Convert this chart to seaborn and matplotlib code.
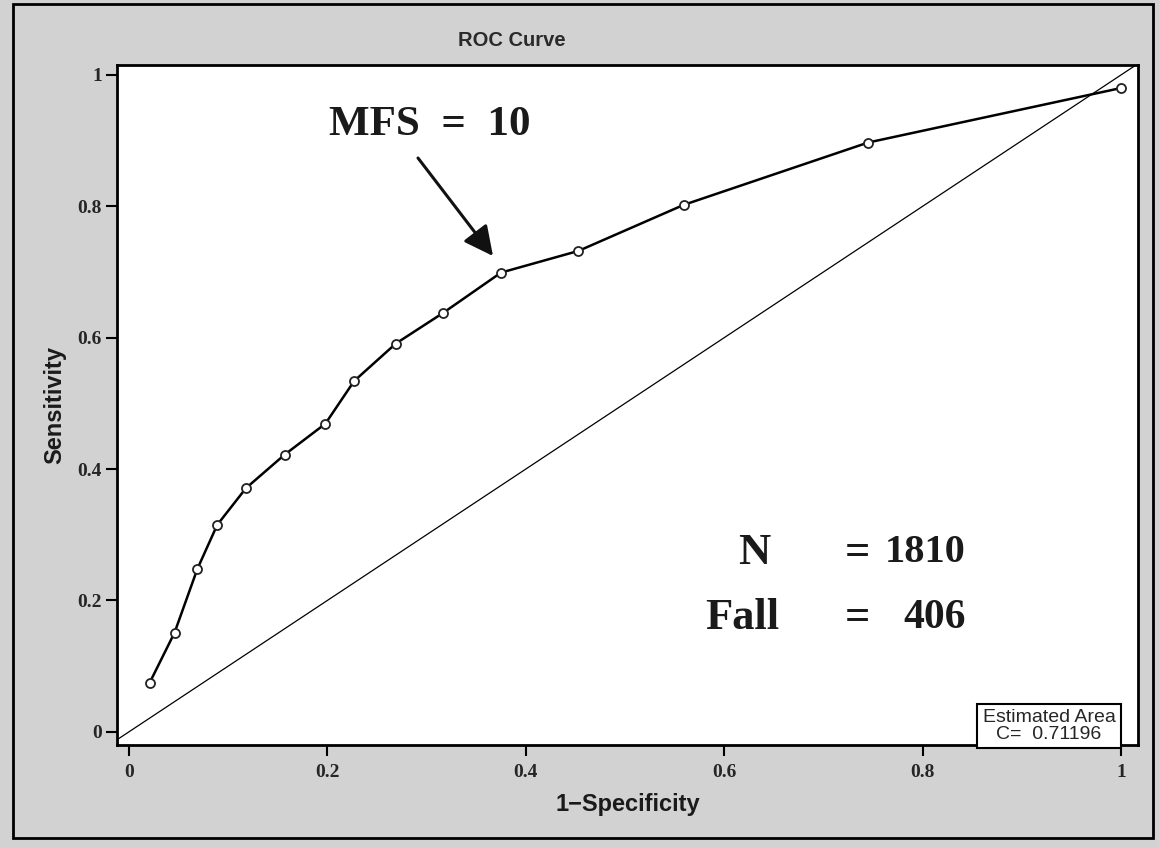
import matplotlib
matplotlib.use("Agg")
import matplotlib.pyplot as plt
import matplotlib.patches as mpatches
import seaborn as sns
import pandas as pd
import numpy as np

# ---- data ----
fpr = [0.021, 0.046, 0.069, 0.089, 0.118, 0.157, 0.198, 0.227, 0.269, 0.317,
       0.375, 0.453, 0.559, 0.745, 1.000]
tpr = [0.075, 0.151, 0.248, 0.315, 0.371, 0.422, 0.469, 0.534, 0.591, 0.638,
       0.699, 0.732, 0.802, 0.897, 0.980]
x_ticks = [0, 0.2, 0.4, 0.6, 0.8, 1]
y_ticks = [0, 0.2, 0.4, 0.6, 0.8, 1]
tick_labels = ["0", "0.2", "0.4", "0.6", "0.8", "1"]
area_c = "0.71196"
n_total = 1810
n_fall = 406
mfs_cut = 10

df = pd.DataFrame({"fpr": fpr, "tpr": tpr})

sns.set_theme(style="white")
plt.rcParams["font.family"] = ["Liberation Sans", "DejaVu Sans"]

W, H = 1159, 848
fig = plt.figure(figsize=(W / 100, H / 100), dpi=100, facecolor="#d2d2d2")

def fx(px):
    return px / W

def fy(py):
    return 1 - py / H

left, right, top, bottom = 117, 1138, 65, 745
ax = fig.add_axes([fx(left), fy(bottom), fx(right) - fx(left), fy(top) - fy(bottom)])
ax.set_facecolor("white")

# diagonal reference line
ax.axline((0, 0), (1, 1), color="black", lw=0.9, zorder=2)

sns.lineplot(data=df, x="fpr", y="tpr", ax=ax, color="black", lw=1.8,
             marker="o", markersize=6.5, markerfacecolor="white",
             markeredgecolor="#222222", markeredgewidth=1.3, sort=False, zorder=3)

ax.set_xlim(-0.012, 1.017)
ax.set_ylim(-0.020, 1.015)
ax.set_xticks(x_ticks)
ax.set_yticks(y_ticks)
ax.set_xticklabels(tick_labels)
ax.set_yticklabels(tick_labels)
for lab in ax.get_xticklabels() + ax.get_yticklabels():
    lab.set_fontfamily("Liberation Serif")
    lab.set_fontweight("bold")
    lab.set_fontsize(14)
ax.tick_params(axis="x", pad=6)
ax.tick_params(axis="both", direction="out", length=8, width=1.5, color="black",
               bottom=True, left=True)
ax.tick_params(axis="y", pad=3)
for s in ax.spines.values():
    s.set_color("black")
    s.set_linewidth(2.0)

ax.set_xlabel("1\u2212Specificity", fontsize=17, fontweight="bold", labelpad=8,
              color="#1a1a1a")
ax.set_ylabel("Sensitivity", fontsize=17, fontweight="bold", labelpad=8,
              color="#1a1a1a")

fig.text(fx(512), fy(40), "ROC Curve", ha="center", va="center",
         fontsize=14.5, fontweight="bold", color="#2a2a2a")

# MFS annotation
fig.text(fx(430), fy(125), f"MFS  =  {mfs_cut}", ha="center", va="center",
         fontsize=31, fontweight="bold", fontfamily="Liberation Serif",
         color="#1a1a1a")
fig.patches.append(mpatches.FancyArrowPatch(
    (fx(418), fy(158)), (fx(493), fy(256)), transform=fig.transFigure,
    arrowstyle="-|>,head_length=9,head_width=4.5", color="#111111", lw=2.2,
    mutation_scale=2, shrinkA=0, shrinkB=0))

big = dict(fontweight="bold", fontfamily="Liberation Serif",
           va="center", color="#1a1a1a")
fig.text(fx(738), fy(553), "N", ha="left", fontsize=32, **big)
fig.text(fx(857), fy(553), "=", ha="center", fontsize=32, **big)
fig.text(fx(966), fy(553), str(n_total), ha="right", fontsize=29, **big)
fig.text(fx(705), fy(618), "Fall", ha="left", fontsize=32, **big)
fig.text(fx(857), fy(618), "=", ha="center", fontsize=32, **big)
fig.text(fx(966), fy(618), str(n_fall), ha="right", fontsize=30, **big)

# estimated area box
fig.text(fx(1049), fy(726), f"Estimated Area\nC=  {area_c}", ha="center", va="center",
         fontsize=14, linespacing=1.0,
         bbox=dict(boxstyle="square,pad=0.28", facecolor="white",
                   edgecolor="black", lw=1.5))

# outer frame
fig.patches.append(mpatches.Rectangle((fx(13), fy(838)), fx(1153) - fx(13),
                                      fy(4) - fy(838), transform=fig.transFigure,
                                      fill=False, edgecolor="black", lw=2.0))

fig.savefig("out.png", dpi=100, facecolor=fig.get_facecolor())
